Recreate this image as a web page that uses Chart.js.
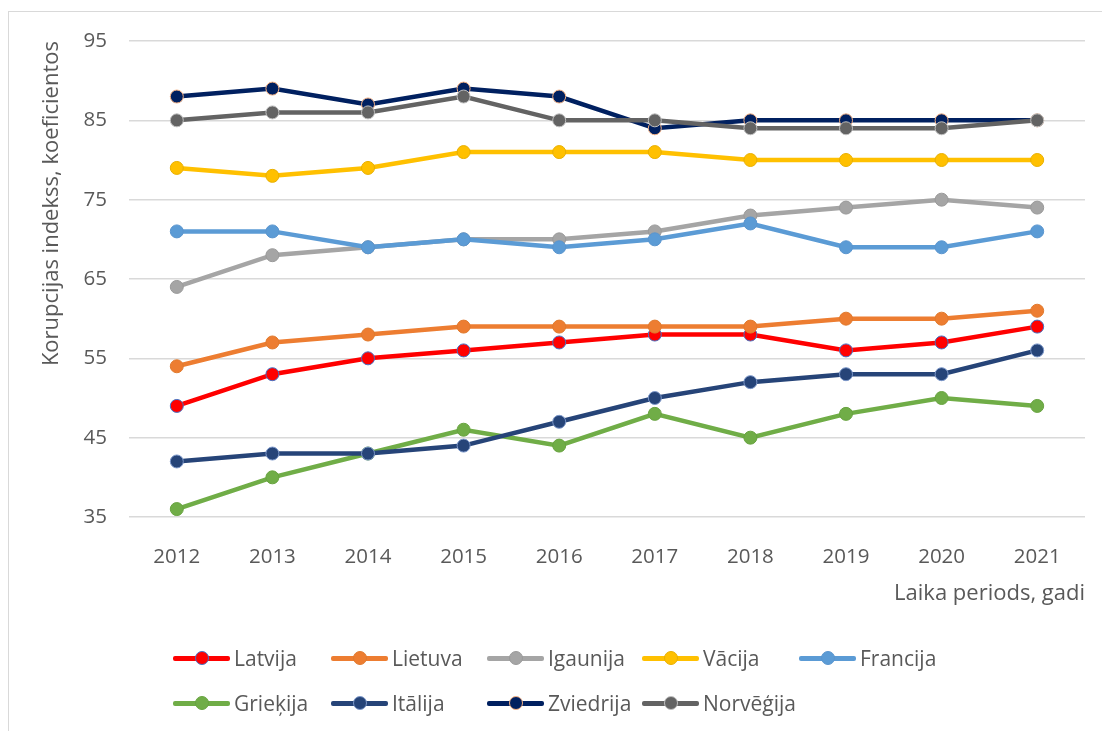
<!DOCTYPE html>
<html>
<head>
<meta charset="utf-8">
<script src="https://cdn.jsdelivr.net/npm/chart.js@4.4.0/dist/chart.umd.min.js"></script>
<style>
  html, body { margin: 0; padding: 0; background: #fff; }
  body { width: 1102px; height: 731px; position: relative; overflow: hidden; font-family: "Open Sans", "Liberation Sans", sans-serif; }
  #frame { position: absolute; left: 8px; top: 11px; width: 1100px; height: 730px; border: 1px solid #d9d9d9; box-sizing: border-box; }
  #wrap { position: absolute; left: 0; top: 0; width: 1102px; height: 731px; }
  #legend { position: absolute; left: 0; top: 0; width: 1102px; height: 731px; pointer-events: none; }
  .item { position: absolute; display: flex; align-items: center; height: 24px; font-size: 21px; color: #595959; white-space: nowrap; }
  .icon { position: relative; width: 57px; height: 14px; margin-right: 4px; }
  .icon .ln { position: absolute; left: 0; right: 0; top: 5px; height: 4.5px; border-radius: 2px; }
  .icon .pt { position: absolute; left: 22px; top: 0; width: 12px; height: 12px; border-radius: 50%; border: 1px solid; }
</style>
</head>
<body>
<div id="frame"></div>
<div id="wrap"><canvas id="c" width="1102" height="731"></canvas></div>
<div id="legend"></div>
<script>
const years = ['2012','2013','2014','2015','2016','2017','2018','2019','2020','2021'];
const seriesNames = ['Latvija','Lietuva','Igaunija','Vācija','Francija','Grieķija','Itālija','Zviedrija','Norvēģija'];
const latvija   = [49,53,55,56,57,58,58,56,57,59];
const lietuva   = [54,57,58,59,59,59,59,60,60,61];
const igaunija  = [64,68,69,70,70,71,73,74,75,74];
const vacija    = [79,78,79,81,81,81,80,80,80,80];
const francija  = [71,71,69,70,69,70,72,69,69,71];
const griekija  = [36,40,43,46,44,48,45,48,50,49];
const italija   = [42,43,43,44,47,50,52,53,53,56];
const zviedrija = [88,89,87,89,88,84,85,85,85,85];
const norvegija = [85,86,86,88,85,85,84,84,84,85];
const yTicks = [35,45,55,65,75,85,95];

const seriesValues = [latvija, lietuva, igaunija, vacija, francija, griekija, italija, zviedrija, norvegija];
const lineColors  = ['#FF0000','#ED7D31','#A5A5A5','#FFC000','#5B9BD5','#70AD47','#264478','#002060','#636363'];
const pointBorder = ['#4472C4','#E07A2E','#9A9A9A','#E8AF00','#5A95CE','#68A340','#7C97C9','#F4B183','#BFBFBF'];

const datasets = seriesNames.map((n, i) => ({
  label: n,
  data: seriesValues[i],
  borderColor: lineColors[i],
  backgroundColor: lineColors[i],
  borderWidth: 4.5,
  pointRadius: 6.5,
  pointHoverRadius: 6.5,
  pointBackgroundColor: lineColors[i],
  pointBorderColor: pointBorder[i],
  pointBorderWidth: 1,
  tension: 0,
  order: seriesNames.length - i
}));

const FONT = '"Open Sans", "Liberation Sans", sans-serif';

new Chart(document.getElementById('c'), {
  type: 'line',
  data: { labels: years, datasets },
  options: {
    responsive: false,
    animation: false,
    layout: { padding: { left: 36, top: 41, right: 17, bottom: 124 } },
    plugins: { legend: { display: false }, tooltip: { enabled: false } },
    scales: {
      x: {
        offset: true,
        afterFit: (scale) => { scale.height = 90; },
        grid: { display: false },
        border: { display: false },
        ticks: { color: '#595959', font: { family: FONT, size: 20.5 }, padding: 20 },
        title: { display: true, text: 'Laika periods, gadi', align: 'end', color: '#595959', font: { family: FONT, size: 22 }, padding: { top: 0, bottom: 0 } }
      },
      y: {
        min: 35, max: 95,
        afterBuildTicks: (scale) => { scale.ticks = yTicks.map(v => ({ value: v })); },
        afterFit: (scale) => { scale.width = 93; },
        grid: { color: '#d9d9d9', lineWidth: 1.5, drawTicks: false },
        border: { display: false },
        ticks: { color: '#595959', font: { family: FONT, size: 20.5 }, padding: 22 },
        title: { display: true, text: 'Korupcijas indekss, koeficientos', align: 'end', color: '#595959', font: { family: FONT, size: 22 }, padding: { top: 3, bottom: 3 } }
      }
    }
  }
});

// legend (Excel-style grid)
const legend = document.getElementById('legend');
const colX = [173, 331, 487, 642, 799];
const rowY = [646, 691];
seriesNames.forEach((n, i) => {
  const r = i < 5 ? 0 : 1, c = i < 5 ? i : i - 5;
  const it = document.createElement('div');
  it.className = 'item';
  it.style.left = colX[c] + 'px';
  it.style.top = rowY[r] + 'px';
  it.innerHTML = '<span class="icon"><span class="ln" style="background:' + lineColors[i] + '"></span>' +
    '<span class="pt" style="background:' + lineColors[i] + ';border-color:' + pointBorder[i] + '"></span></span>' +
    '<span>' + n + '</span>';
  legend.appendChild(it);
});
</script>
</body>
</html>
